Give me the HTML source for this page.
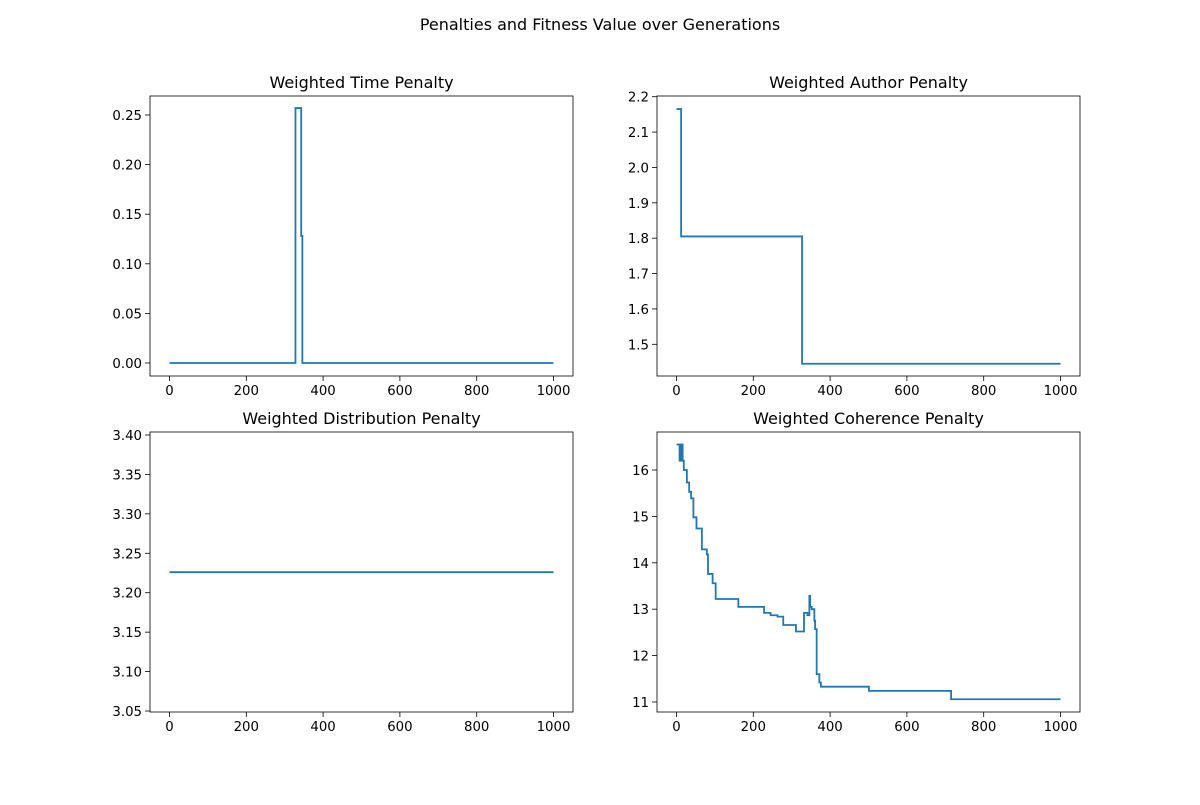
<!DOCTYPE html>
<html><head><meta charset="utf-8"><style>
body{margin:0;background:#fff;}
svg text{font-family:"DejaVu Sans","Liberation Sans",sans-serif;fill:#000;}
</style></head><body>
<svg id="fig" width="1200" height="800" xmlns="http://www.w3.org/2000/svg">
<rect width="1200" height="800" fill="#fff"/>
<text x="600" y="30" font-size="16" text-anchor="middle">Penalties and Fitness Value over Generations</text>
</svg>
<script>
// Data arrays
const timeGens = [0, 328, 343, 346, 1000];
const timeVals = [0, 0.257, 0.128, 0, 0];
const authorGens = [0, 12, 327, 1000];
const authorVals = [2.165, 1.805, 1.445, 1.445];
const distGens = [0, 1000];
const distVals = [3.226, 3.226];
const cohGens = [0, 8, 10, 11, 15, 16, 19, 27, 33, 38, 44, 52, 66, 79, 82, 94, 102, 161, 228, 245, 263, 278, 311, 332, 341, 346, 348, 352, 359, 361, 365, 372, 376, 501, 715, 1000];
const cohVals = [16.55, 16.2, 16.55, 16.2, 16.55, 16.2, 16.0, 15.73, 15.53, 15.39, 14.98, 14.74, 14.29, 14.18, 13.76, 13.56, 13.22, 13.05, 12.92, 12.87, 12.84, 12.66, 12.52, 12.92, 12.87, 13.29, 13.05, 13.0, 12.75, 12.57, 11.6, 11.42, 11.33, 11.24, 11.06, 11.06];
const xTicks = [0, 200, 400, 600, 800, 1000];
const timeTicks = ["0.00","0.05","0.10","0.15","0.20","0.25"];
const authorTicks = ["1.5","1.6","1.7","1.8","1.9","2.0","2.1","2.2"];
const distTicks = ["3.05","3.10","3.15","3.20","3.25","3.30","3.35","3.40"];
const cohTicks = ["11","12","13","14","15","16"];

const NS = "http://www.w3.org/2000/svg";
const svg = document.getElementById('fig');
function mk(tag, attrs, parent){const e=document.createElementNS(NS,tag);for(const k in attrs)e.setAttribute(k,attrs[k]);(parent||svg).appendChild(e);return e;}

const panels = [
 {name:'time', title:'Weighted Time Penalty', L:150,R:573,T:96,B:376, y0v:0,y0p:363, y1v:0.25,y1p:115, ticks:timeTicks, gens:timeGens, vals:timeVals},
 {name:'author', title:'Weighted Author Penalty', L:657,R:1080,T:96,B:376, y0v:1.5,y0p:344.3, y1v:2.2,y1p:96.7, ticks:authorTicks, gens:authorGens, vals:authorVals},
 {name:'distribution', title:'Weighted Distribution Penalty', L:150,R:573,T:432,B:712, y0v:3.05,y0p:711, y1v:3.40,y1p:435, ticks:distTicks, gens:distGens, vals:distVals},
 {name:'coherence', title:'Weighted Coherence Penalty', L:657,R:1080,T:432,B:712, y0v:11,y0p:702, y1v:16,y1p:470, ticks:cohTicks, gens:cohGens, vals:cohVals}
];

panels.forEach(p=>{
  const xs = g => p.L + 19.5 + g*(p.R-p.L-39)/1000;
  const ys = v => p.y0p + (v-p.y0v)*(p.y1p-p.y0p)/(p.y1v-p.y0v);
  const g = mk('g',{});
  
  
  const t = mk('text',{x:(p.L+p.R)/2,y:p.T-8,'font-size':16,'text-anchor':'middle'},g);
  t.textContent = p.title;
  
  
  xTicks.forEach(v=>{
    const x = xs(v);
    mk('line',{x1:x,x2:x,y1:p.B,y2:p.B+5,stroke:'#000','stroke-width':0.8},g);
    const tx = mk('text',{x:x,y:p.B+19,'font-size':13.3,'text-anchor':'middle'},g);
    tx.textContent = v;
    
    
  });
  p.ticks.forEach(s=>{
    const y = ys(parseFloat(s));
    mk('line',{x1:p.L-5,x2:p.L,y1:y,y2:y,stroke:'#000','stroke-width':0.8},g);
    const ty = mk('text',{x:p.L-8,y:y+5,'font-size':13.3,'text-anchor':'end'},g);
    ty.textContent = s;
    
    
  });
  let d='';
  for(let i=0;i<p.gens.length;i++){
    const x=xs(p.gens[i]), y=ys(p.vals[i]);
    if(i===0) d+='M'+x+' '+y;
    else d+=' L'+x+' '+ys(p.vals[i-1])+' L'+x+' '+y;
  }
  const path = mk('path',{d:d,fill:'none',stroke:'#1f77b4','stroke-width':1.8,'stroke-linejoin':'miter'},g);
  
  
  const r = mk('rect',{x:p.L,y:p.T,width:p.R-p.L,height:p.B-p.T,fill:'none',stroke:'#000','stroke-width':0.8},g);
  
  
});
</script>
</body></html>
